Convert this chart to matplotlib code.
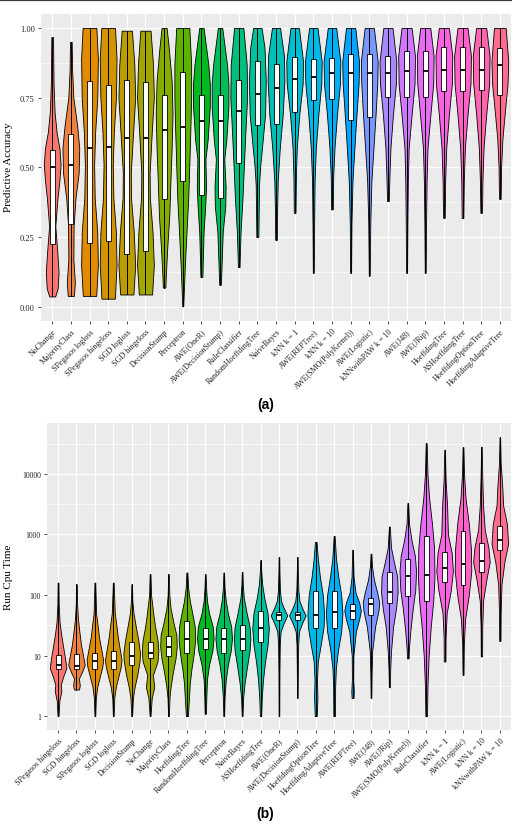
import matplotlib

matplotlib.use("Agg")

import matplotlib.pyplot as plt
import numpy as np
from matplotlib.lines import Line2D
from matplotlib.ticker import FixedLocator

# ---- panel (a): predictive accuracy ----
ACC_NAMES = [
    "NoChange", "MajorityClass", "SPegasos logloss", "SPegasos hingeloss",
    "SGD logloss", "SGD hingeloss", "DecisionStump", "Perceptron", "AWE(OneR)",
    "AWE(DecisionStump)", "RuleClassifier", "RandomHoeffdingTree", "NaiveBayes",
    "kNN k = 1", "AWE(REPTree)", "kNN k = 10", "AWE(SMO(PolyKernel))",
    "AWE(Logistic)", "kNNwithPAW k = 10", "AWE(J48)", "AWE(JRip)",
    "HoeffdingTree", "ASHoeffdingTree", "HoeffdingOptionTree", "HoeffdingAdaptiveTree",
]
ACC_Q1 = [0.227, 0.299, 0.231, 0.235, 0.189, 0.200, 0.388, 0.452, 0.403, 0.391, 0.515, 0.654, 0.655,
          0.699, 0.741, 0.747, 0.669, 0.681, 0.753, 0.751, 0.751, 0.773, 0.773, 0.778, 0.759]
ACC_MED = [0.500, 0.510, 0.571, 0.572, 0.605, 0.605, 0.636, 0.645, 0.667, 0.667, 0.703, 0.762, 0.786,
           0.816, 0.824, 0.839, 0.840, 0.840, 0.840, 0.845, 0.845, 0.848, 0.848, 0.851, 0.866]
ACC_Q3 = [0.562, 0.621, 0.810, 0.795, 0.815, 0.806, 0.759, 0.842, 0.760, 0.760, 0.815, 0.882, 0.872,
          0.896, 0.890, 0.893, 0.908, 0.908, 0.900, 0.916, 0.916, 0.932, 0.932, 0.932, 0.928]
# density outline: (accuracy, relative half width)
ACC_SHAPE = [
    [(0.038, 0.35), (0.066, 0.65), (0.125, 0.76), (0.2, 0.6), (0.29, 0.37), (0.39, 0.63), (0.45, 0.85),
     (0.51, 1.0), (0.567, 0.87), (0.627, 0.52), (0.7, 0.28), (0.8, 0.16), (0.967, 0.1)],
    [(0.04, 0.37), (0.09, 0.48), (0.17, 0.3), (0.29, 0.33), (0.39, 0.55), (0.48, 0.93), (0.57, 1.0),
     (0.65, 0.75), (0.75, 0.3), (0.85, 0.15), (0.95, 0.1)],
    [(0.04, 0.8), (0.15, 1.0), (0.27, 0.92), (0.39, 0.62), (0.51, 0.55), (0.63, 0.68), (0.75, 0.93),
     (0.89, 1.0), (1.0, 0.82)],
    [(0.03, 0.8), (0.15, 1.0), (0.27, 0.92), (0.39, 0.62), (0.51, 0.55), (0.63, 0.68), (0.75, 0.93),
     (0.89, 1.0), (1.0, 0.82)],
    [(0.045, 0.75), (0.15, 0.95), (0.27, 0.78), (0.39, 0.48), (0.48, 0.45), (0.63, 0.72), (0.75, 0.95),
     (0.87, 0.85), (0.99, 0.58)],
    [(0.045, 0.75), (0.15, 0.95), (0.27, 0.8), (0.39, 0.5), (0.48, 0.47), (0.63, 0.72), (0.75, 0.95),
     (0.87, 0.85), (0.99, 0.58)],
    [(0.07, 0.15), (0.11, 0.2), (0.21, 0.37), (0.33, 0.62), (0.45, 0.75), (0.57, 0.9), (0.69, 1.0),
     (0.81, 0.9), (0.93, 0.55), (1.0, 0.3)],
    [(0.003, 0.06), (0.05, 0.12), (0.15, 0.25), (0.27, 0.45), (0.39, 0.65), (0.51, 0.78), (0.63, 0.9),
     (0.75, 1.0), (0.87, 1.0), (1.0, 0.78)],
    [(0.108, 0.12), (0.15, 0.15), (0.27, 0.26), (0.36, 0.45), (0.43, 0.55), (0.53, 0.48), (0.6, 0.75),
     (0.72, 1.0), (0.8, 1.0), (0.87, 0.82), (1.0, 0.26)],
    [(0.08, 0.1), (0.15, 0.18), (0.27, 0.32), (0.36, 0.62), (0.43, 0.66), (0.53, 0.5), (0.6, 0.75),
     (0.72, 1.0), (0.8, 1.0), (0.87, 0.82), (1.0, 0.26)],
    [(0.143, 0.1), (0.17, 0.12), (0.27, 0.22), (0.39, 0.45), (0.51, 0.62), (0.63, 0.8), (0.75, 1.0),
     (0.87, 0.95), (1.0, 0.55)],
    [(0.251, 0.12), (0.33, 0.15), (0.44, 0.2), (0.51, 0.35), (0.57, 0.55), (0.69, 0.92), (0.81, 1.0),
     (0.93, 0.85), (1.0, 0.5)],
    [(0.241, 0.1), (0.33, 0.12), (0.45, 0.2), (0.57, 0.45), (0.69, 0.8), (0.81, 1.0), (0.9, 0.95),
     (1.0, 0.48)],
    [(0.338, 0.1), (0.47, 0.15), (0.57, 0.25), (0.69, 0.55), (0.8, 0.95), (0.88, 1.0), (1.0, 0.5)],
    [(0.123, 0.06), (0.3, 0.1), (0.45, 0.15), (0.57, 0.3), (0.69, 0.6), (0.8, 0.95), (0.88, 1.0),
     (1.0, 0.5)],
    [(0.35, 0.1), (0.47, 0.15), (0.57, 0.3), (0.69, 0.6), (0.8, 0.95), (0.88, 1.0), (1.0, 0.5)],
    [(0.123, 0.06), (0.3, 0.1), (0.45, 0.22), (0.57, 0.45), (0.69, 0.7), (0.8, 0.95), (0.88, 1.0),
     (1.0, 0.55)],
    [(0.113, 0.06), (0.3, 0.12), (0.45, 0.25), (0.57, 0.5), (0.69, 0.75), (0.8, 0.95), (0.88, 1.0),
     (1.0, 0.55)],
    [(0.38, 0.1), (0.47, 0.18), (0.57, 0.3), (0.69, 0.6), (0.8, 0.95), (0.88, 1.0), (1.0, 0.55)],
    [(0.123, 0.06), (0.3, 0.1), (0.45, 0.15), (0.57, 0.25), (0.69, 0.6), (0.8, 0.95), (0.9, 1.0),
     (1.0, 0.6)],
    [(0.123, 0.06), (0.3, 0.1), (0.45, 0.16), (0.57, 0.27), (0.69, 0.62), (0.8, 0.95), (0.9, 1.0),
     (1.0, 0.6)],
    [(0.32, 0.1), (0.45, 0.15), (0.57, 0.28), (0.69, 0.6), (0.8, 0.95), (0.9, 1.0), (1.0, 0.6)],
    [(0.319, 0.1), (0.45, 0.15), (0.57, 0.28), (0.69, 0.6), (0.8, 0.95), (0.9, 1.0), (1.0, 0.6)],
    [(0.338, 0.1), (0.45, 0.15), (0.57, 0.28), (0.69, 0.6), (0.8, 0.95), (0.9, 1.0), (1.0, 0.6)],
    [(0.388, 0.1), (0.5, 0.15), (0.6, 0.3), (0.7, 0.6), (0.8, 0.92), (0.88, 1.0), (1.0, 0.7)],
]

# ---- panel (b): run cpu time ----
CPU_NAMES = [
    "SPegasos hingeloss", "SGD hingeloss", "SPegasos logloss", "SGD logloss", "DecisionStump",
    "NoChange", "MajorityClass", "HoeffdingTree", "RandomHoeffdingTree", "Perceptron",
    "NaiveBayes", "ASHoeffdingTree", "AWE(OneR)", "AWE(DecisionStump)", "HoeffdingOptionTree",
    "HoeffdingAdaptiveTree", "AWE(REPTree)", "AWE(J48)", "AWE(JRip)", "AWE(SMO(PolyKernel))",
    "RuleClassifier", "kNN k = 1", "AWE(Logistic)", "kNN k = 10", "kNNwithPAW k = 10",
]
CPU_Q1 = [6.0, 5.9, 6.0, 6.0, 6.9, 9.0, 9.8, 11, 13, 11, 12.5, 17, 38, 38, 28, 28, 40, 47, 73, 98,
          80, 166, 146, 240, 550]
CPU_MED = [6.9, 6.8, 8.2, 8.2, 9.8, 11, 14, 19, 19, 19, 19, 28, 46, 46, 47, 52, 55, 71, 113, 205,
           213, 275, 320, 365, 800]
CPU_Q3 = [10.2, 10.5, 11, 11.7, 16.5, 16.5, 21, 37, 29, 29, 32, 55, 53, 53, 118, 118, 70, 89, 237,
          400, 950, 515, 1130, 710, 1380]
CPU_SHAPE = [
    [(1, 0.06), (1.8, 0.16), (2.6, 0.4), (3.3, 0.33), (4.5, 0.62), (6.2, 1.0), (9, 0.85), (13, 0.65),
     (22, 0.38), (36, 0.18), (70, 0.08), (160, 0.05)],
    [(2.75, 0.3), (3.2, 0.4), (4.2, 0.3), (5.5, 0.7), (7, 1.0), (10, 0.8), (15, 0.55), (25, 0.35),
     (40, 0.18), (70, 0.08), (150, 0.05)],
    [(1, 0.05), (2, 0.12), (3, 0.28), (4.5, 0.6), (6.5, 0.9), (8.5, 1.0), (12, 0.8), (20, 0.5),
     (30, 0.35), (50, 0.15), (160, 0.05)],
    [(1, 0.05), (2, 0.12), (3, 0.3), (4.5, 0.62), (6.5, 0.9), (8.5, 1.0), (12, 0.82), (20, 0.55),
     (30, 0.4), (50, 0.18), (160, 0.05)],
    [(1, 0.05), (2, 0.15), (3, 0.35), (5, 0.7), (8, 0.95), (11, 1.0), (18, 0.8), (30, 0.5), (50, 0.22),
     (80, 0.08), (150, 0.04)],
    [(1, 0.05), (2, 0.2), (3, 0.5), (4.8, 0.35), (8, 0.9), (12, 1.0), (18, 0.9), (30, 0.6), (47, 0.4),
     (100, 0.12), (220, 0.05)],
    [(1, 0.05), (2, 0.12), (3, 0.25), (5, 0.5), (9, 0.85), (14, 1.0), (22, 0.95), (35, 0.6), (60, 0.25),
     (100, 0.1), (220, 0.04)],
    [(1, 0.12), (2, 0.25), (3.5, 0.35), (6, 0.55), (10, 0.8), (18, 1.0), (30, 0.95), (50, 0.65),
     (80, 0.35), (130, 0.15), (235, 0.06)],
    [(1.1, 0.08), (2, 0.12), (4, 0.2), (7, 0.45), (12, 0.85), (19, 1.0), (30, 0.9), (50, 0.45),
     (80, 0.2), (130, 0.1), (220, 0.04)],
    [(1, 0.05), (2, 0.1), (4, 0.25), (7, 0.5), (12, 0.85), (19, 1.0), (30, 0.9), (50, 0.5), (80, 0.25),
     (130, 0.1), (235, 0.04)],
    [(1, 0.05), (2, 0.12), (3.5, 0.3), (6, 0.55), (12, 0.9), (19, 1.0), (30, 0.9), (50, 0.55),
     (90, 0.2), (150, 0.08), (240, 0.04)],
    [(1, 0.08), (2, 0.15), (4, 0.3), (8, 0.55), (15, 0.85), (28, 1.0), (50, 0.85), (90, 0.45),
     (150, 0.2), (250, 0.08), (375, 0.04)],
    [(1, 0.04), (5, 0.06), (15, 0.1), (25, 0.2), (35, 0.6), (46, 1.0), (60, 0.6), (80, 0.25),
     (120, 0.12), (250, 0.06), (425, 0.04)],
    [(2, 0.04), (5, 0.06), (15, 0.1), (25, 0.2), (35, 0.6), (46, 1.0), (60, 0.6), (80, 0.25),
     (120, 0.12), (250, 0.06), (425, 0.04)],
    [(1, 0.12), (2, 0.2), (4, 0.15), (8, 0.25), (15, 0.6), (30, 0.95), (50, 1.0), (100, 0.85),
     (200, 0.5), (400, 0.25), (750, 0.1)],
    [(1, 0.1), (3, 0.12), (6, 0.2), (12, 0.45), (25, 0.85), (50, 1.0), (100, 0.85), (200, 0.5),
     (400, 0.22), (940, 0.06)],
    [(2, 0.12), (2.6, 0.15), (4, 0.08), (10, 0.1), (25, 0.4), (40, 0.8), (55, 1.0), (75, 0.8),
     (110, 0.35), (200, 0.12), (560, 0.04)],
    [(2, 0.04), (5, 0.08), (12, 0.15), (30, 0.5), (55, 0.9), (75, 1.0), (110, 0.75), (180, 0.35),
     (300, 0.12), (480, 0.05)],
    [(3, 0.06), (6, 0.1), (12, 0.2), (30, 0.45), (60, 0.8), (110, 1.0), (200, 0.95), (350, 0.55),
     (600, 0.2), (1350, 0.05)],
    [(9, 0.1), (12, 0.12), (25, 0.3), (60, 0.6), (120, 0.9), (250, 1.0), (450, 0.85), (800, 0.45),
     (1500, 0.15), (3300, 0.05)],
    [(1, 0.1), (3, 0.15), (10, 0.3), (30, 0.55), (80, 0.85), (200, 1.0), (600, 0.95), (1500, 0.7),
     (4000, 0.35), (10000, 0.15), (32000, 0.06)],
    [(8, 0.1), (20, 0.12), (50, 0.25), (120, 0.75), (250, 1.0), (500, 0.85), (1000, 0.4), (3000, 0.3),
     (8000, 0.12), (25000, 0.04)],
    [(4.8, 0.06), (15, 0.1), (40, 0.25), (100, 0.7), (250, 1.0), (600, 0.95), (1500, 0.7),
     (4000, 0.3), (10000, 0.12), (27500, 0.05)],
    [(9.7, 0.08), (30, 0.1), (80, 0.2), (180, 0.6), (350, 1.0), (600, 0.85), (1200, 0.4), (3000, 0.2),
     (9000, 0.1), (28000, 0.04)],
    [(17.5, 0.08), (50, 0.1), (150, 0.2), (350, 0.55), (700, 1.0), (1500, 0.85), (3000, 0.4),
     (6000, 0.3), (15000, 0.1), (40000, 0.04)],
]

SERIF = ["Liberation Serif", "DejaVu Serif"]
PANEL_BG = "#EBEBEB"


def _hue_palette(n):
    # ggplot2 default discrete hue palette (hcl, c=100, l=65)
    xn, yn, zn = 95.047, 100.0, 108.883
    lum, chroma = 65.0, 100.0
    big_y = yn * ((lum + 16) / 116) ** 3
    den = xn + 15 * yn + 3 * zn
    un, vn = 4 * xn / den, 9 * yn / den
    m = np.array([[3.240479, -1.537150, -0.498535],
                  [-0.969256, 1.875992, 0.041556],
                  [0.055648, -0.204043, 1.057311]])
    colors = []
    for h in np.linspace(15, 375, n + 1)[:-1]:
        u = chroma * np.cos(np.radians(h))
        v = chroma * np.sin(np.radians(h))
        up = u / (13 * lum) + un
        vp = v / (13 * lum) + vn
        x = 9 * big_y * up / (4 * vp)
        z = big_y * (12 - 3 * up - 20 * vp) / (4 * vp)
        rgb = m @ (np.array([x, big_y, z]) / 100)
        rgb = np.where(rgb <= 0.0031308, 12.92 * rgb, 1.055 * np.clip(rgb, 0, None) ** (1 / 2.4) - 0.055)
        colors.append(tuple(np.clip(rgb, 0, 1)))
    return colors


def _style_axes(ax, names):
    ax.set_facecolor(PANEL_BG)
    for sp in ax.spines.values():
        sp.set_visible(False)
    ax.grid(which="major", color="white", linewidth=0.9)
    ax.grid(which="minor", axis="y", color="white", linewidth=0.45)
    ax.set_axisbelow(True)
    ax.set_xlim(0.4, len(names) + 0.6)
    ax.set_xticks(np.arange(1, len(names) + 1))
    ax.set_xticklabels(names, rotation=45, ha="right", va="top", rotation_mode="anchor",
                       fontsize=5.8, family=SERIF, color="#222222")
    ax.tick_params(which="major", length=2.5, width=0.6, color="#333333", pad=2)
    ax.tick_params(which="minor", length=0)


def _draw_violins(ax, names, shapes, q1, med, q3, colors):
    pos = np.arange(1, len(names) + 1)
    stats = []
    box_stats = []
    for i, shp in enumerate(shapes):
        ys = [p[0] for p in shp]
        ws = [p[1] for p in shp]
        stats.append({"coords": ys, "vals": ws, "mean": med[i], "median": med[i],
                      "min": ys[0], "max": ys[-1], "quantiles": []})
        box_stats.append({"med": med[i], "q1": q1[i], "q3": q3[i],
                          "whislo": ys[0], "whishi": ys[-1], "fliers": []})
    parts = ax.violin(stats, positions=pos, widths=0.9, showextrema=False)
    for body, col in zip(parts["bodies"], colors):
        body.set_facecolor(col)
        body.set_edgecolor("black")
        body.set_linewidth(0.6)
        body.set_alpha(1)
        body.set_zorder(2)
    ax.bxp(box_stats, positions=pos, widths=0.27, patch_artist=True, showcaps=False,
           showfliers=False, zorder=3,
           boxprops=dict(facecolor="white", edgecolor="black", linewidth=0.6),
           whiskerprops=dict(color="black", linewidth=0.7),
           medianprops=dict(color="black", linewidth=1.3))


fig = plt.figure(figsize=(5.12, 8.28), dpi=100)
colors = _hue_palette(len(ACC_NAMES))

ax_a = fig.add_axes([0.0801, 0.6111, 0.918, 0.3708])
_draw_violins(ax_a, ACC_NAMES, ACC_SHAPE, ACC_Q1, ACC_MED, ACC_Q3, colors)
_style_axes(ax_a, ACC_NAMES)
ax_a.set_ylim(-0.05, 1.05)
ax_a.set_yticks([0, 0.25, 0.5, 0.75, 1.0])
ax_a.set_yticklabels(["0.00", "0.25", "0.50", "0.75", "1.00"], fontsize=6, family=SERIF, color="#222222")
ax_a.yaxis.set_minor_locator(FixedLocator([0.125, 0.375, 0.625, 0.875]))

ax_b = fig.add_axes([0.0918, 0.1171, 0.906, 0.3708])
_draw_violins(ax_b, CPU_NAMES, CPU_SHAPE, CPU_Q1, CPU_MED, CPU_Q3, colors)
ax_b.set_yscale("log")
_style_axes(ax_b, CPU_NAMES)
ax_b.set_ylim(10 ** -0.23, 10 ** 4.84)
ax_b.yaxis.set_major_locator(FixedLocator([1, 10, 100, 1000, 10000]))
ax_b.set_yticklabels(["1", "10", "100", "1000", "10000"], fontsize=5.5, family=SERIF, color="#222222")
ax_b.yaxis.set_minor_locator(FixedLocator([10 ** (k + 0.5) for k in range(0, 5)]))
ax_b.yaxis.set_minor_formatter(plt.NullFormatter())

# axis titles placed in figure pixels so they are not clipped
fig.text(9 / 512, 1 - 167 / 828, "Predictive Accuracy", rotation=90, ha="center", va="center",
         fontsize=8, family=SERIF)
fig.text(9 / 512, 1 - 577 / 828, "Run Cpu Time", rotation=90, ha="center", va="center",
         fontsize=8, family=SERIF)

fig.text(0.518, 0.511, "(a)", ha="center", va="center", fontsize=10, fontweight="bold",
         family=["Liberation Sans", "DejaVu Sans"])
fig.text(0.518, 0.017, "(b)", ha="center", va="center", fontsize=10, fontweight="bold",
         family=["Liberation Sans", "DejaVu Sans"])
fig.add_artist(Line2D([0, 1], [0.999, 0.999], transform=fig.transFigure, color="#3C3C3C", linewidth=1.6))

fig.savefig("out.png", dpi=100)
plt.close(fig)
